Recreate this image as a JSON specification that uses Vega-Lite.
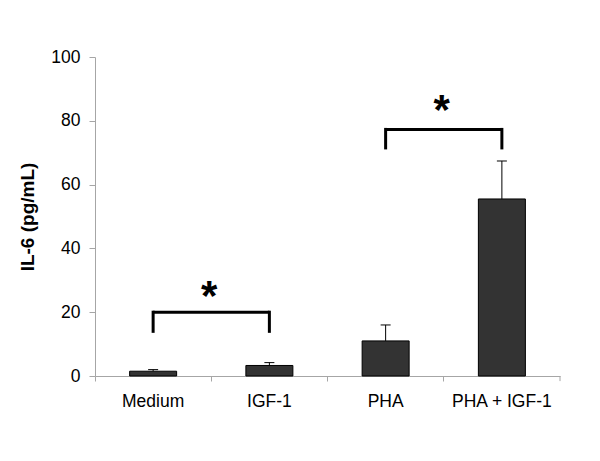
{
  "$schema": "https://vega.github.io/schema/vega-lite/v6.json",
  "width": 465,
  "height": 319,
  "autosize": {"type": "none"},
  "padding": {"left": 95, "top": 57, "right": 40, "bottom": 85},
  "background": "white",
  "config": {
    "view": {"stroke": null},
    "font": "Liberation Sans"
  },
  "datasets": {
    "bars": [
      {"group": "Medium", "value": 1.5, "upper": 2.0},
      {"group": "IGF-1", "value": 3.3, "upper": 4.2},
      {"group": "PHA", "value": 11.0, "upper": 16.0},
      {"group": "PHA + IGF-1", "value": 55.5, "upper": 67.4}
    ],
    "brackets": [
      {"from": "Medium", "to": "IGF-1", "level": 20, "foot": 14, "star": 20.8},
      {"from": "PHA", "to": "PHA + IGF-1", "level": 77.3, "foot": 71.5, "star": 79.0}
    ],
    "feet": [
      {"group": "Medium", "level": 20, "foot": 14},
      {"group": "IGF-1", "level": 20, "foot": 14},
      {"group": "PHA", "level": 77.3, "foot": 71.5},
      {"group": "PHA + IGF-1", "level": 77.3, "foot": 71.5}
    ],
    "endtick": [
      {"group": "PHA + IGF-1", "y0": 0, "y1": -1.6}
    ]
  },
  "layer": [
    {
      "data": {"name": "bars"},
      "mark": {"type": "bar", "width": 47, "fill": "#333333", "stroke": "#000000", "strokeWidth": 1},
      "encoding": {
        "x": {
          "field": "group", "type": "nominal", "sort": null,
          "scale": {"domain": ["Medium", "IGF-1", "PHA", "PHA + IGF-1"], "paddingInner": 0, "paddingOuter": 0},
          "axis": {
            "title": null, "labelAngle": 0, "bandPosition": 0,
            "domainColor": "#a6a6a6", "tickColor": "#a6a6a6", "tickSize": 5,
            "labelFontSize": 17.5, "labelColor": "#000000", "labelPadding": 11,
            "labelFont": "Liberation Sans"
          }
        },
        "y": {
          "field": "value", "type": "quantitative",
          "scale": {"domain": [0, 100], "nice": false},
          "axis": {
            "title": "IL-6 (pg/mL)", "titleFontSize": 19, "titleFontWeight": "bold",
            "titleColor": "#000000", "titleFont": "Liberation Sans", "titlePadding": 13,
            "values": [0, 20, 40, 60, 80, 100], "grid": false,
            "domainColor": "#a6a6a6", "tickColor": "#a6a6a6", "tickSize": 6,
            "labelFontSize": 17.5, "labelColor": "#000000", "labelPadding": 9,
            "labelFont": "Liberation Sans"
          }
        }
      }
    },
    {
      "data": {"name": "bars"},
      "mark": {"type": "rule", "color": "#000000", "strokeWidth": 1},
      "encoding": {
        "x": {"field": "group", "type": "nominal", "sort": null},
        "y": {"field": "value", "type": "quantitative"},
        "y2": {"field": "upper"}
      }
    },
    {
      "data": {"name": "bars"},
      "mark": {"type": "tick", "orient": "horizontal", "size": 10, "thickness": 1, "color": "#000000", "opacity": 1},
      "encoding": {
        "x": {"field": "group", "type": "nominal", "sort": null},
        "y": {"field": "upper", "type": "quantitative"}
      }
    },
    {
      "data": {"name": "brackets"},
      "mark": {"type": "rule", "color": "#000000", "strokeWidth": 3},
      "encoding": {
        "x": {"field": "from", "type": "nominal", "sort": null},
        "x2": {"field": "to"},
        "y": {"field": "level", "type": "quantitative"}
      }
    },
    {
      "data": {"name": "feet"},
      "mark": {"type": "rule", "color": "#000000", "strokeWidth": 3, "strokeCap": "square"},
      "encoding": {
        "x": {"field": "group", "type": "nominal", "sort": null},
        "y": {"field": "level", "type": "quantitative"},
        "y2": {"field": "foot"}
      }
    },
    {
      "data": {"name": "brackets"},
      "mark": {"type": "text", "text": "*", "fontSize": 42, "fontWeight": "bold", "font": "Liberation Sans", "color": "#000000", "baseline": "alphabetic", "align": "center", "xOffset": 56},
      "encoding": {
        "x": {"field": "from", "type": "nominal", "sort": null},
        "y": {"field": "star", "type": "quantitative"}
      }
    },
    {
      "data": {"name": "endtick"},
      "mark": {"type": "rule", "color": "#a6a6a6", "strokeWidth": 1, "clip": false},
      "encoding": {
        "x": {"field": "group", "type": "nominal", "sort": null, "bandPosition": 1},
        "y": {"field": "y0", "type": "quantitative"},
        "y2": {"field": "y1"}
      }
    }
  ]
}
